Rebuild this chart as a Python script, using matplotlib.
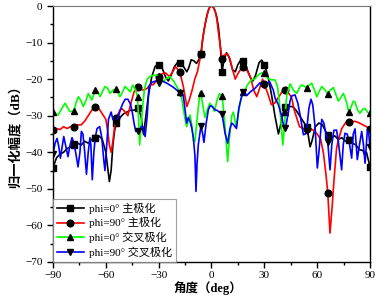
import numpy as np
import matplotlib
matplotlib.use("Agg")
import matplotlib.pyplot as plt
from matplotlib.ticker import MultipleLocator

plt.rcParams['font.family'] = ['Liberation Serif', 'Noto Sans CJK SC', 'DejaVu Sans']
plt.rcParams['axes.unicode_minus'] = True

marker_angles = [-90, -78, -66, -54, -42, -30, -18, -6, 6, 18, 30, 42, 54, 66, 78, 90]

black_x = [-90, -88, -86, -84, -82, -80, -78, -76, -74, -72, -70, -68, -66, -64, -62, -60, -59, -58, -57, -56, -55, -54,
           -52, -50, -48, -46, -44, -42, -40, -39, -38.5, -38, -36, -34, -32, -30, -28, -26, -24.5, -23, -21, -19, -18,
           -16, -14, -13, -11.5, -10, -8.5, -7, -6, -5, -4, -3, -2, -1, 0, 1, 2, 3, 4, 5, 6, 7, 8.5, 10, 12, 13.5, 15,
           17, 18, 20, 22, 23.5, 25, 27, 28.5, 30, 32, 34, 36, 38, 39.5, 41, 42, 44, 46, 48, 50, 52, 54, 55, 56, 57, 59,
           61, 63, 65, 66, 68, 70, 72, 74, 76, 78, 80, 82, 84, 86, 87, 88, 89, 90]
black_y = [-44.2, -41.5, -40.5, -40, -39, -38.5, -38, -37.5, -38, -37, -37.5, -36.5, -36, -35.5, -36.5, -40, -44, -48,
           -45, -38, -34, -32, -30.5, -29.5, -29, -28.5, -28.5, -28, -30, -34, -35.2, -33, -25, -19.5, -16.5, -16, -17,
           -19.5, -20.5, -19, -16.5, -15.3, -15.5, -16.5, -18, -17, -14.7, -15, -15.7, -14.5, -13.2, -9, -6, -3.5, -1.5,
           -0.3, 0, -0.3, -1.3, -3, -6, -11, -18, -15, -12.8, -14, -17.5, -18, -16, -14.5, -15, -17, -19.5, -20.5, -19,
           -15.5, -14.8, -16, -19, -24, -30, -35, -32, -28.5, -27.5, -27.5, -27.5, -28.5, -30, -31.5, -33, -35.5, -38.5,
           -37, -33, -32, -32.5, -34.5, -35.2, -36, -35.5, -36.5, -36, -37, -36.6, -37.5, -38, -39.3, -39.5, -40.7, -40,
           -42, -44]

red_x = [-90, -88, -86, -84, -82, -80, -78, -76, -74, -72, -70, -68, -66, -64, -62, -60, -59, -58, -57, -56, -55, -54,
         -52, -51, -49, -47.5, -46, -44, -42, -40, -38.5, -36.5, -35, -33, -30, -28, -26, -24, -22, -20.5, -18, -16, -14,
         -12.5, -11, -9.5, -8, -6, -5, -4, -3, -2, -1, 0, 1, 2, 3, 4, 5, 6, 7, 9, 10.5, 12, 13.5, 15, 17, 18, 20, 22, 24,
         25.7, 27, 29, 30, 32, 34, 36, 38, 40, 42, 44, 45.5, 47, 50, 52, 54, 56, 58, 60, 62, 63.5, 65, 66, 67.3, 68.5,
         69.5, 71, 72, 74, 76, 78, 80, 82, 84, 86, 88, 90]
red_y = [-34, -33.5, -33.8, -33, -33.5, -33, -33.2, -32.5, -32.5, -31.5, -30, -28.5, -27.7, -28, -29.5, -31, -34, -38,
         -40, -37, -33, -30.5, -28.5, -28, -29, -30, -27, -23.5, -22.2, -22.8, -23, -22.5, -21.6, -21.5, -19.5, -18.5,
         -18.3, -19.3, -18, -16.6, -18, -22, -27.5, -25.5, -23, -20, -18, -13.2, -9, -6, -3.5, -1.5, -0.3, 0, -0.3,
         -1.3, -3.5, -7.5, -11, -14.5, -13.5, -13, -14.5, -17.5, -20, -18.5, -17, -16.8, -17.5, -19.3, -23, -24.8, -23,
         -20, -21.4, -24, -27, -26.5, -25, -23.5, -23.1, -24, -25, -28.5, -33, -33.5, -33.5, -33.5, -34, -35, -36.5,
         -40, -46, -51, -62.1, -55, -48, -39, -36.6, -33.5, -32, -31.8, -31.5, -31.6, -32, -32.5, -33, -33.6]

green_x = [-90, -88.5, -87, -85, -83.2, -81.5, -80.3, -78, -77, -75.6, -74, -72.8, -71, -70, -68, -66, -64.5, -63.3,
           -62, -60.5, -59, -57.6, -56, -54, -52, -50.5, -49.1, -47, -46, -44.8, -43, -42, -41.5, -40.8, -40, -39, -38,
           -36.5, -35, -33, -31, -30, -29.5, -27.4, -25.5, -23.6, -21.5, -19.8, -18, -17, -16, -15, -14.1, -13, -12.2,
           -11, -10.3, -9.4, -8, -6.5, -6, -5, -3.7, -2.5, -1, 0.5, 1.7, 3, 4.5, 6, 7.1, 8, 9.2, 10, 11.5, 12.4, 13.2,
           14, 15, 16.2, 18, 19, 20.5, 22.8, 24.5, 25.7, 27.5, 29.4, 30, 32, 34, 36, 37.5, 38.5, 39.5, 40.5, 41.2, 42,
           42.7, 44.6, 46.5, 48.4, 50.3, 51.3, 54, 56.9, 58.5, 59.8, 61, 62.6, 64.5, 66, 67.5, 69.2, 70.5, 72, 73.5,
           74.9, 76.5, 78, 79, 80.5, 81.5, 83, 84.3, 86, 87.2, 88.5, 90]
green_y = [-28.9, -29.5, -29.8, -28, -26.6, -28, -28.9, -28.6, -26.5, -24.8, -26, -27.5, -25.5, -23.9, -25.7, -23.1,
           -23.5, -24.8, -23.5, -22, -22.5, -23.9, -23, -22.7, -24.8, -23.5, -22, -23, -23.5, -21.6, -23, -25, -30, -38,
           -33, -27, -22.5, -20, -19.3, -19, -18.9, -19.2, -19.5, -20.7, -19.8, -19.3, -20.5, -22, -23.5, -25, -28, -31,
           -33, -31, -29.8, -33, -36.8, -37, -30, -23.6, -23.9, -27, -30.5, -28.5, -26.6, -27.5, -28.8, -26, -24, -24.5,
           -29.8, -35, -42.5, -37, -30, -29, -31, -33, -30, -26.6, -23.4, -23, -21.5, -20.2, -20, -19.3, -18.5, -18.2,
           -18.4, -19.8, -20.2, -20.2, -22, -26, -32, -38, -34, -29, -24.5, -21.3, -23, -23.9, -22, -21.6, -22.3, -21.1,
           -23, -24.8, -23.5, -22, -23, -24, -23, -22.3, -24, -26, -25, -23.9, -26, -29, -28, -26, -26.3, -28.5, -29.3,
           -28.2, -28, -29, -29.3]

blue_x = [-90, -88.8, -87.7, -86.7, -85.8, -84.8, -83.9, -82.7, -81.5, -80.3, -79.2, -78, -76.8, -75.8, -74.7, -73.9,
          -73, -72, -71, -70, -69, -68.5, -67.7, -66.8, -66, -65, -63.5, -62.3, -61.2, -60.5, -59.8, -58.5, -57, -56,
          -55, -54, -53, -51.5, -50.3, -49, -47.5, -46, -45, -44, -43, -42, -41, -40, -39, -37.7, -36.5, -35.5, -34,
          -33, -31, -30, -28, -25.4, -21.7, -18, -16, -15, -14.1, -13.2, -12.2, -11.2, -10.3, -9.4, -8.8, -8.2, -7.5,
          -6, -5, -4.3, -3, -1.8, -0.8, 0.5, 2, 3, 4.5, 6, 7.7, 9.2, 10.5, 11.5, 12.6, 14.2, 15.5, 17.2, 18, 20, 22,
          24.7, 27.5, 30, 33, 35.1, 36.1, 38, 39.9, 41, 42, 43.5, 44.6, 45.5, 47.4, 49, 50.3, 52.2, 53.2, 54, 55.3,
          56.5, 57.5, 58.8, 60.1, 61, 62.6, 63.8, 65, 66, 67.3, 68.3, 69.5, 71, 72, 73.9, 74.8, 75.8, 77, 78, 79.6,
          80.5, 81.5, 82.8, 84, 85.3, 86.3, 87.2, 88.5, 89.3, 90]
blue_y = [-40.5, -37.5, -36.2, -38.5, -41.6, -38.5, -35.7, -38.5, -41.2, -38, -36, -37.7, -41, -44, -40, -34.3, -35,
          -40, -46, -40, -36, -38, -47.5, -40, -36, -33.5, -33, -36, -42, -45, -40, -31, -29, -31, -31.5, -32, -30.5,
          -28, -26.6, -25.5, -25.5, -26.8, -29, -32, -34.3, -34.3, -34.8, -33, -33, -35.7, -30, -22, -21, -20.7, -20.5,
          -21, -20.5, -21.1, -22.2, -23.7, -24.5, -28.4, -32, -30.5, -31.5, -33.4, -36, -41, -50.7, -43, -38, -32.8,
          -35, -37.3, -32, -28.4, -27.3, -27.5, -28.4, -28.5, -29, -29.5, -34.8, -37.5, -33.5, -32, -32.5, -33.5, -28,
          -24.5, -23.4, -24.5, -23.5, -22.5, -21, -21.6, -20.7, -23, -25.2, -27, -30.2, -33, -33.4, -29.5, -26, -24.6,
          -24.3, -26.5, -29.8, -35.2, -35, -34.3, -28, -25.5, -27, -33, -44.3, -40, -31, -32, -35, -37.1, -44.8, -38,
          -34, -33.9, -37, -44.8, -38, -34.8, -35, -36.6, -41.6, -35, -33.6, -42, -38, -34.3, -38, -43, -34, -35, -38.6]

labels = ['phi=0° 主极化', 'phi=90° 主极化', 'phi=0° 交叉极化', 'phi=90° 交叉极化']
x_ticks = [-90, -60, -30, 0, 30, 60, 90]
y_ticks = [0, -10, -20, -30, -40, -50, -60, -70]

fig = plt.figure(figsize=(3.77, 3.0), dpi=100)
ax = fig.add_axes([0.1406, 0.1267, 0.8408, 0.8533])

series = [
    (black_x, black_y, 'black', 's'),
    (red_x, red_y, 'red', 'o'),
    (green_x, green_y, '#00ff00', '^'),
    (blue_x, blue_y, 'blue', 'v'),
]
for (xs, ys, col, mk), lab in zip(series, labels):
    xs = np.array(xs, dtype=float)
    ys = np.array(ys, dtype=float)
    mask = np.isin(xs, np.array(marker_angles, dtype=float))
    ax.plot(xs, ys, color=col, lw=1.2, marker=mk, markersize=4.8, markevery=list(np.where(mask)[0]),
            markerfacecolor='black', markeredgecolor='black', label=lab)

ax.set_xlim(-90, 90)
ax.set_ylim(-70, 0)
ax.set_xticks(x_ticks)
ax.set_yticks(y_ticks)
ax.xaxis.set_minor_locator(MultipleLocator(15))
ax.yaxis.set_minor_locator(MultipleLocator(5))
ax.tick_params(axis='both', which='major', direction='out', length=4, width=1, labelsize=8,
               top=False, right=False)
ax.tick_params(axis='x', which='major', pad=2.5)
ax.tick_params(axis='both', which='minor', direction='out', length=2.5, width=1, top=False, right=False)
for s in ['left', 'bottom', 'right']:
    ax.spines[s].set_linewidth(1.0)
ax.spines['top'].set_color('#777777')

ax.set_xlabel('角度（deg）', fontsize=9, fontweight='bold', va='center')
ax.xaxis.set_label_coords(0.49, -0.102)
ax.set_ylabel('归一化幅度（dB）', fontsize=9.5, fontweight='bold', va='center')
ax.yaxis.set_label_coords(-0.12, 0.5)

leg = ax.legend(loc='lower left', fontsize=8, frameon=True, fancybox=False, borderaxespad=0.0,
                handlelength=2.4, labelspacing=0.3, borderpad=0.35, handletextpad=0.5)
leg.get_frame().set_edgecolor('#888888')
leg.get_frame().set_linewidth(0.8)

fig.savefig('out.png', dpi=100)
